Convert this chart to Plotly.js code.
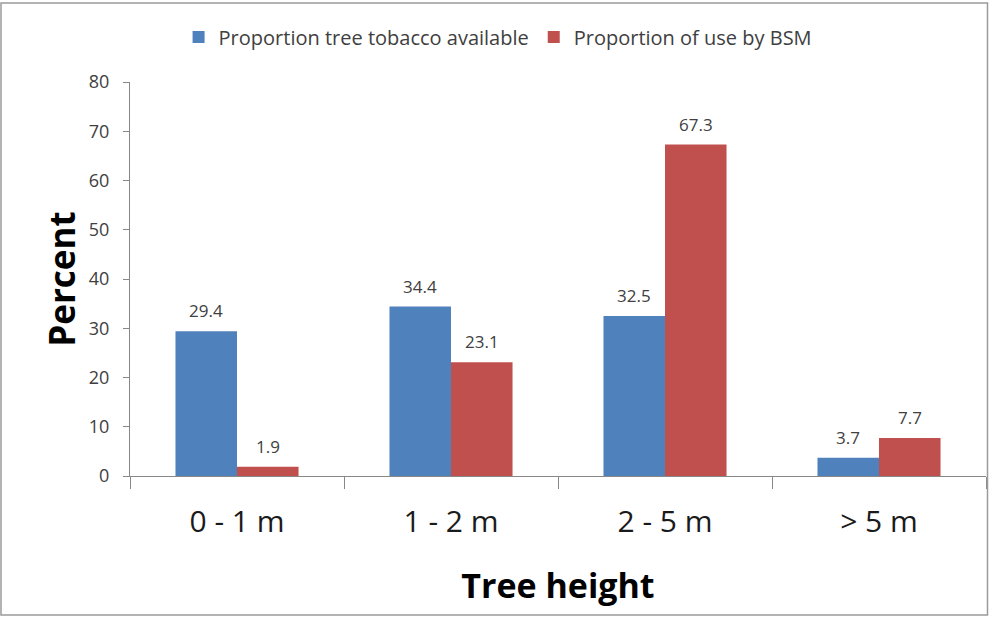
<!DOCTYPE html>
<html>
<head>
<meta charset="utf-8">
<script src="https://cdn.plot.ly/plotly-3.0.1.min.js"></script>
<style>html,body{margin:0;padding:0;background:#fff;}#chart{width:989px;height:617px;}</style>
</head>
<body>
<div id="chart"></div>
<script>
var categories = ["0 - 1 m", "1 - 2 m", "2 - 5 m", "> 5 m"];
var available = [29.4, 34.4, 32.5, 3.7];
var useByBSM = [1.9, 23.1, 67.3, 7.7];
var seriesNames = ["Proportion tree tobacco available", "Proportion of use by BSM"];
var yTicks = [0, 10, 20, 30, 40, 50, 60, 70, 80];

var FONT = "Open Sans, Liberation Sans, sans-serif";
var labelFont = {family: FONT, size: 17, color: "#404040"};

var traces = [
  {type: "bar", name: seriesNames[0], x: categories, y: available,
   marker: {color: "#4F81BD"}, hoverinfo: "none"},
  {type: "bar", name: seriesNames[1], x: categories, y: useByBSM,
   marker: {color: "#C0504D"}, hoverinfo: "none"}
];

// data labels above each bar, built from the data arrays
var annotations = [];
var halfBar = 31;
[available, useByBSM].forEach(function(series, si){
  series.forEach(function(v, i){
    annotations.push({xref: "x", yref: "y", x: categories[i], y: v,
      xshift: si === 0 ? -halfBar : halfBar, yshift: 7,
      yanchor: "bottom", showarrow: false, text: v.toFixed(1), font: labelFont});
  });
});

var layout = {
  width: 989, height: 617,
  margin: {l: 130, r: 3, t: 82, b: 141},
  paper_bgcolor: "#ffffff", plot_bgcolor: "#ffffff",
  barmode: "group", bargap: 0.425, bargroupgap: 0,
  showlegend: true,
  legend: {orientation: "h", x: 0.43, xanchor: "center", y: 1.0 + 45/394, yanchor: "middle",
    font: {family: FONT, size: 20, color: "#404040"},
    itemwidth: 30, traceorder: "normal"},
  xaxis: {
    type: "category", showline: true, linecolor: "#888888", linewidth: 1,
    ticks: "outside", tickson: "boundaries", ticklen: 12, tickcolor: "#888888",
    showgrid: false, zeroline: false, ticklabelstandoff: 19,
    tickfont: {family: FONT, size: 30, color: "#1a1a1a"},
    title: {text: "Tree height", font: {family: FONT, size: 34, color: "#000000", weight: "bold"}, standoff: 34}
  },
  yaxis: {
    range: [0, 80], tickvals: yTicks, ticktext: yTicks.map(String),
    showline: true, linecolor: "#888888", linewidth: 1,
    ticks: "outside", ticklen: 6, tickcolor: "#888888",
    showgrid: false, zeroline: false, ticklabelstandoff: 10,
    tickfont: {family: FONT, size: 18, color: "#404040"},
    title: {text: "Percent", font: {family: FONT, size: 35, color: "#000000", weight: "bold"}, standoff: 2}
  },
  annotations: annotations,
  shapes: [{type: "rect", xref: "paper", yref: "paper", x0: -129/856, x1: 1+1.5/856, y0: -139/394, y1: 1+79/394,
    line: {color: "#9a9a9a", width: 1.5}, fillcolor: "rgba(0,0,0,0)"}]
};

Plotly.newPlot("chart", traces, layout, {displayModeBar: false, staticPlot: true});
</script>
</body>
</html>
